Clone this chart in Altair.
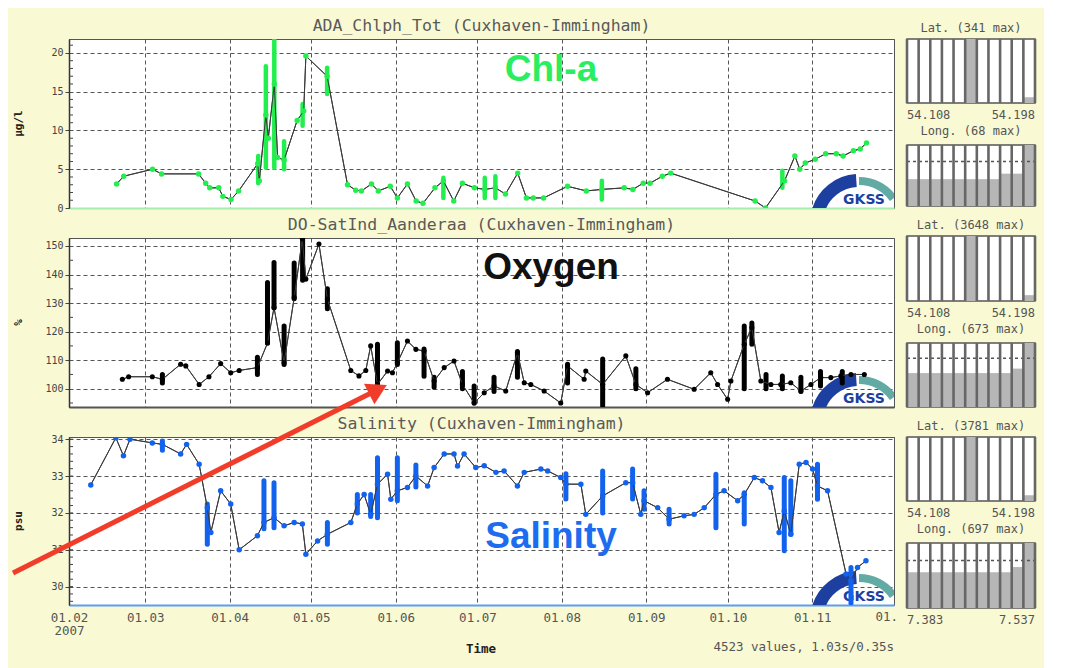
import altair as alt
import pandas as pd

# ---------------- data (days since 2007-02-01) ----------------
MONTH_DAYS = [0, 28, 59, 89, 120, 150, 181, 212, 242, 273, 303]
MONTH_LABELS = ["01.02", "01.03", "01.04", "01.05", "01.06", "01.07",
                "01.08", "01.09", "01.10", "01.11", ""]
LAST_LABEL = "01."          # December label, cut at the right edge of the plot
YEAR_LABEL = "2007"

chl_day = [17.5, 20.1, 30.7, 34.0, 47.6, 50.2, 51.7, 55.0, 56.5, 59.5,
           62.3, 69.3, 69.9, 72.3, 73.2, 75.4, 76.6, 79.0, 83.8, 86.2,
           87.0, 94.8, 102.3, 105.3, 107.4, 111.1, 113.6, 118.0, 120.6, 124.3,
           127.5, 130.0, 134.4, 137.5, 141.3, 144.5, 148.9, 152.7, 156.6, 160.3,
           164.8, 168.0, 170.5, 174.3, 183.1, 190.0, 195.7, 203.9, 207.1, 210.9,
           213.4, 217.9, 221.0, 252.0, 255.8, 262.8, 266.6, 268.4, 270.4, 274.1,
           277.9, 281.8, 284.3, 288.1, 290.6, 292.9]
chl_val = [3.1, 4.1, 5.0, 4.4, 4.4, 3.2, 2.6, 2.6, 1.5, 1.1,
           2.2, 5.7, 3.5, 12.0, 9.0, 16.0, 6.5, 6.2, 11.3, 12.5,
           19.6, 17.0, 3.0, 2.3, 2.2, 3.1, 2.2, 2.8, 1.3, 3.1,
           0.9, 0.6, 2.6, 3.5, 0.9, 3.2, 2.6, 2.4, 2.6, 1.8,
           4.5, 1.3, 1.3, 1.3, 2.8, 2.2, 2.4, 2.6, 2.4, 3.2,
           3.2, 4.1, 4.5, 0.9, 0.0, 3.5, 6.7, 5.0, 5.8, 6.3,
           7.0, 7.0, 6.7, 7.4, 7.6, 8.4]
chl_r_day = [69.5, 72.3, 75.4, 79.0, 85.8, 94.8, 137.5, 152.7, 156.6, 195.7, 262.0]
chl_r_lo = [3.2, 5.2, 5.2, 5.0, 10.6, 14.7, 1.3, 1.3, 1.3, 1.1, 2.6]
chl_r_hi = [6.7, 18.3, 21.8, 8.6, 13.4, 18.1, 3.9, 3.9, 4.1, 3.5, 4.8]

oxy_day = [19.6, 21.9, 30.6, 34.3, 41.0, 42.9, 47.8, 51.4, 55.7, 59.4,
           62.5, 69.2, 72.9, 75.3, 79.0, 82.7, 85.7, 87.0, 91.8, 94.9,
           103.5, 106.5, 109.0, 110.8, 113.3, 117.0, 118.8, 120.6, 124.3, 127.4,
           130.4, 134.1, 137.8, 141.4, 144.5, 148.8, 152.5, 156.1, 160.4, 164.7,
           167.2, 169.6, 174.5, 180.6, 183.1, 189.2, 189.8, 196.0, 204.5, 208.2,
           212.5, 219.8, 229.6, 235.7, 238.2, 241.9, 243.1, 248.0, 250.8, 254.1,
           257.8, 261.4, 265.1, 268.8, 272.5, 276.1, 279.8, 283.5, 287.2, 292.1]
oxy_val = [103.3, 104.2, 104.2, 103.3, 108.6, 108.0, 101.5, 104.2, 108.8, 105.6,
           106.4, 107.4, 116.0, 128.4, 109.1, 131.9, 152.5, 138.4, 150.7, 131.4,
           106.4, 104.5, 106.4, 115.0, 101.5, 106.2, 105.6, 109.1, 116.7, 113.8,
           113.2, 102.7, 107.4, 109.7, 101.5, 95.0, 98.6, 101.0, 99.2, 112.6,
           102.1, 101.5, 99.2, 95.0, 108.0, 103.3, 106.2, 101.5, 111.5, 101.5,
           98.6, 103.3, 99.8, 105.6, 101.5, 96.3, 102.7, 115.6, 121.4, 102.7,
           101.5, 101.5, 102.1, 99.2, 101.5, 103.9, 103.9, 104.5, 105.0, 105.0]
oxy_r_day = [34.3, 69.2, 72.9, 75.3, 79.0, 82.7, 85.8, 94.9, 113.3, 120.6,
             130.4, 134.1, 144.5, 148.8, 156.1, 164.7, 183.1, 196.0, 208.2, 248.0,
             250.8, 256.0, 262.0, 268.8, 276.0, 284.0]
oxy_r_lo = [102.0, 105.0, 116.0, 128.4, 108.5, 131.5, 138.0, 128.0, 100.4, 108.5,
            104.4, 100.5, 100.0, 95.0, 99.0, 104.0, 102.0, 94.0, 100.0, 100.0,
            115.6, 100.0, 100.0, 99.0, 101.0, 102.0]
oxy_r_hi = [105.0, 111.0, 137.2, 144.2, 122.0, 144.0, 152.8, 135.0, 115.6, 116.1,
            113.9, 104.0, 106.0, 101.0, 104.0, 113.0, 108.6, 110.4, 107.0, 122.0,
            123.0, 105.0, 104.5, 104.0, 106.0, 106.0]

sal_day = [8.0, 17.2, 20.0, 22.4, 30.6, 34.3, 41.0, 43.2, 47.8, 50.8,
           52.1, 55.7, 59.4, 62.5, 69.2, 71.6, 75.3, 79.0, 82.7, 85.7,
           87.0, 91.3, 94.9, 103.5, 105.9, 108.4, 110.8, 113.3, 117.0, 118.2,
           120.6, 124.3, 127.4, 131.7, 134.1, 137.8, 141.4, 142.7, 145.1, 149.4,
           152.5, 156.8, 159.8, 164.7, 167.2, 173.3, 175.8, 180.6, 182.5, 188.0,
           189.8, 196.0, 204.5, 207.0, 210.0, 211.2, 216.2, 220.4, 225.9, 229.6,
           233.3, 237.6, 240.6, 245.6, 248.0, 251.7, 254.7, 257.8, 260.8, 262.7,
           265.1, 268.2, 270.7, 273.1, 274.9, 278.6, 285.4, 287.2, 289.6, 292.7]
sal_val = [32.76, 34.04, 33.55, 34.00, 33.90, 33.86, 33.60, 33.86, 33.32, 32.14,
           31.47, 32.60, 32.24, 31.00, 31.38, 31.74, 31.87, 31.65, 31.74, 31.70,
           30.88, 31.24, 31.42, 31.74, 32.24, 32.50, 31.96, 32.78, 33.05, 32.37,
           32.60, 32.69, 33.00, 32.73, 33.23, 33.60, 33.60, 33.27, 33.60, 33.23,
           33.28, 33.10, 33.14, 32.73, 33.10, 33.19, 33.14, 32.96, 32.78, 32.78,
           31.96, 32.46, 32.82, 32.82, 31.96, 32.33, 32.14, 31.83, 31.92, 31.96,
           32.14, 32.50, 32.60, 32.33, 32.50, 32.96, 32.87, 32.69, 31.47, 32.05,
           31.42, 33.32, 33.37, 33.19, 32.73, 32.60, 30.34, 30.15, 30.52, 30.70]
sal_r_day = [34.3, 50.8, 71.6, 75.3, 94.9, 105.9, 110.8, 113.3, 120.6, 127.4,
             182.5, 196.0, 207.0, 211.2, 220.4, 237.6, 248.0, 262.7, 265.1, 274.9, 287.2]
sal_r_lo = [33.70, 31.15, 31.57, 31.60, 31.15, 32.00, 31.90, 31.87, 32.33, 32.70,
            32.38, 32.00, 32.38, 32.10, 31.70, 31.60, 31.70, 30.97, 31.42, 32.37, 29.55]
sal_r_hi = [33.95, 32.24, 32.87, 32.82, 31.74, 32.50, 32.50, 33.50, 33.50, 33.30,
            33.06, 33.14, 33.19, 32.60, 32.10, 33.05, 32.55, 32.96, 32.87, 33.32, 30.52]

# minor y ticks
chl_minor = [i for i in range(1, 22) if i % 5]
oxy_minor = [95, 105, 115, 125, 135, 145]
sal_minor = [round(29.6 + 0.2 * i, 1) for i in range(23)]

# position histograms (11 bins, fraction of max)
lat_titles = ["Lat. (341 max)", "Lat. (3648 max)", "Lat. (3781 max)"]
long_titles = ["Long. (68 max)", "Long. (673 max)", "Long. (697 max)"]
lat_fracs = [0, 0, 0, 0, 0, 1.0, 0, 0, 0, 0, 0.09]
long_fracs = [
    [0.44, 0.44, 0.44, 0.44, 0.44, 0.44, 0.44, 0.44, 0.53, 0.53, 1.0],
    [0.53, 0.53, 0.53, 0.53, 0.53, 0.53, 0.53, 0.53, 0.53, 0.60, 1.0],
    [0.55, 0.55, 0.55, 0.55, 0.55, 0.55, 0.55, 0.55, 0.55, 0.63, 1.0],
]
long_dash = [0.73, 0.76, 0.73]
lat_range = ["54.108", "54.198"]
long_range = ["7.383", "7.537"]

# ---------------- styling ----------------
MONO = "DejaVu Sans Mono"
W = 825
HX0, HX1 = 838, 966          # histogram column, relative to plot left
BG = "#f9f9d3"
CHL_C = "#22ee4e"
OXY_C = "#000000"
SAL_C = "#1262ee"

labels_js = "[" + ",".join(
    [f"['{MONTH_LABELS[0]}','{YEAR_LABEL}']"] + [f"'{l}'" for l in MONTH_LABELS[1:]]
) + "]"
LABEL_EXPR = f"{labels_js}[indexof({MONTH_DAYS}, datum.value)]"


def one(**kw):
    return pd.DataFrame({k: [v] for k, v in kw.items()})


def txt(text, x, y, size, color="#555", font=MONO, weight="normal", align="center",
        baseline="middle", angle=0):
    return alt.Chart(one(t=text)).mark_text(
        font=font, fontSize=size, color=color, fontWeight=weight, align=align,
        baseline=baseline, angle=angle
    ).encode(text="t:N", x=alt.value(x), y=alt.value(y))


def logo(height):
    d = one(k=0)
    cx, cy = 790, height + 15
    blue = alt.Chart(d).mark_arc(theta=5.0, theta2=6.22, innerRadius=36, outerRadius=49,
                                 color="#1d3f9f", clip=True).encode(x=alt.value(cx), y=alt.value(cy))
    teal = alt.Chart(d).mark_arc(theta=0.0, theta2=0.95, innerRadius=38, outerRadius=46,
                                 color="#62aaa4", clip=True).encode(x=alt.value(cx), y=alt.value(cy))
    t = txt("GKSS", 795, height - 4, 14, color="#1d3f9f", font="DejaVu Sans",
            weight="bold", baseline="alphabetic")
    return [blue, teal, t]


def hist_layer(title, fracs, top, h, title_dy, dash=None, labels=None):
    n = len(fracs)
    xs = alt.Scale(domain=[0, n], range=[HX0, HX1], nice=False, zero=False)
    ys = alt.Scale(domain=[0, 1], range=[top + h, top], nice=False, zero=False)
    bins = pd.DataFrame({"b0": list(range(n)), "b1": list(range(1, n + 1)),
                         "y0": [0] * n, "f": fracs})
    layers = [
        alt.Chart(one(a=0, b=n, c=0, d=1)).mark_rect(fill="white", stroke="#555",
                                                     strokeWidth=1.5).encode(
            x=alt.X("a:Q", scale=xs, axis=None), x2="b:Q",
            y=alt.Y("c:Q", scale=ys, axis=None), y2="d:Q"),
        alt.Chart(bins).mark_rect(color="#b6b6b6").encode(
            x=alt.X("b0:Q", scale=xs, axis=None), x2="b1:Q",
            y=alt.Y("y0:Q", scale=ys, axis=None), y2="f:Q"),
    ]
    if dash is not None:
        layers.append(alt.Chart(one(d=dash, a=0, b=n)).mark_rule(
            color="#555", strokeDash=[3, 3], strokeWidth=1.5).encode(
            x=alt.X("a:Q", scale=xs, axis=None), x2="b:Q",
            y=alt.Y("d:Q", scale=ys, axis=None)))
    edges = pd.DataFrame({"e": list(range(n + 1)), "y0": [0] * (n + 1), "y1": [1] * (n + 1)})
    layers.append(alt.Chart(edges).mark_rule(color="#666", strokeWidth=2.6).encode(
        x=alt.X("e:Q", scale=xs, axis=None),
        y=alt.Y("y0:Q", scale=ys, axis=None), y2="y1:Q"))
    layers.append(txt(title, (HX0 + HX1) / 2, top + title_dy, 12, color="#555"))
    if labels:
        layers.append(txt(labels[0], HX0, top + h + 12, 12, color="#555", align="left"))
        layers.append(txt(labels[1], HX1, top + h + 12, 12, color="#555", align="right"))
    return alt.layer(*layers)


def series_panel(days, vals, rd, rlo, rhi, color, ydom, yticks, minor, height, title,
                 ytitle, big, big_color, big_y, show_labels, domain_color, hists,
                 pt_size=30, rule_w=5, extra=None):
    pts = pd.DataFrame({"day": days, "v": vals})
    rng = pd.DataFrame({"day": rd, "lo": rlo, "hi": rhi})
    xaxis = alt.Axis(values=MONTH_DAYS, grid=True, gridColor="#555", gridDash=[4, 3],
                     gridWidth=1, labels=show_labels, labelExpr=LABEL_EXPR,
                     labelFlush=False, labelOverlap=False, labelFont=MONO,
                     labelFontSize=12.5, labelColor="#555", labelPadding=6,
                     labelLineHeight=13, ticks=False, domainColor=domain_color,
                     domainWidth=2, title=None, orient="bottom")
    xs = alt.Scale(domain=[0, 303], nice=False, zero=False)
    ys = alt.Scale(domain=ydom, nice=False, zero=False)
    yaxis = alt.Axis(values=yticks, grid=True, gridColor="#555", gridDash=[4, 3],
                     gridWidth=1, labelFont=MONO, labelFontSize=10, labelColor="#444",
                     labelPadding=2, tickSize=4, tickColor="#444", domainColor="#333",
                     domainWidth=1.5, labelOverlap=False, title=None, orient="left")
    x = alt.X("day:Q", scale=xs, axis=xaxis)
    line = alt.Chart(pts).mark_line(color="#3a3a3a", strokeWidth=1, clip=True).encode(
        x=x, y=alt.Y("v:Q", scale=ys, axis=yaxis))
    bars = alt.Chart(rng).mark_rule(color=color, strokeWidth=rule_w, strokeCap="round",
                                    clip=True).encode(
        x=x, y=alt.Y("lo:Q", scale=ys, axis=yaxis), y2="hi:Q")
    dots = alt.Chart(pts).mark_circle(size=pt_size, color=color, opacity=1,
                                      clip=True).encode(
        x=x, y=alt.Y("v:Q", scale=ys, axis=yaxis))
    mticks = alt.Chart(pd.DataFrame({"m": minor})).mark_rule(color="#444").encode(
        x=alt.value(0), x2=alt.value(4), y=alt.Y("m:Q", scale=ys, axis=yaxis))
    main = alt.layer(line, mticks, bars, line, dots)
    layers = []
    layers += logo(height)
    layers += [txt(big, 482, big_y, 37, color=big_color, font="Liberation Sans",
                   weight="bold", baseline="alphabetic")]
    layers += [main]
    layers += [txt(title, W / 2, -13, 16.5, color="#5a5a5a"),
               txt(ytitle, -50, height / 2, 11, color="#222", weight="bold", angle=270)]
    layers += hists
    if extra:
        layers += extra
    return alt.layer(*layers).resolve_scale(x="independent", y="independent").properties(
        width=W, height=height)


# invisible anchor fixing the top-left / extent of the yellow frame
anchor = alt.Chart(one(k=0)).mark_rect(opacity=0).encode(
    x=alt.value(-58), x2=alt.value(972), y=alt.value(-28), y2=alt.value(627))

hist1 = [hist_layer(lat_titles[0], lat_fracs, 0, 64, -11, labels=lat_range),
         hist_layer(long_titles[0], long_fracs[0], 106, 61, -14, dash=long_dash[0])]
hist2 = [hist_layer(lat_titles[1], lat_fracs, -2, 65, -11, labels=lat_range),
         hist_layer(long_titles[1], long_fracs[1], 105, 64, -14, dash=long_dash[1])]
hist3 = [hist_layer(lat_titles[2], lat_fracs, 0, 64, -11, labels=lat_range),
         hist_layer(long_titles[2], long_fracs[2], 106, 65, -14, dash=long_dash[2],
                    labels=long_range)]

p_chl = series_panel(chl_day, chl_val, chl_r_day, chl_r_lo, chl_r_hi, CHL_C,
                     [0, 21.8], [0, 5, 10, 15, 20], chl_minor, 169,
                     "ADA_Chlph_Tot (Cuxhaven-Immingham)", "µg/l", "Chl-a", "#2aee60",
                     42, False, "#a8ecb0", hist1, rule_w=4.5, extra=[anchor])
p_oxy = series_panel(oxy_day, oxy_val, oxy_r_day, oxy_r_lo, oxy_r_hi, OXY_C,
                     [93.6, 152.8], [100, 110, 120, 130, 140, 150], oxy_minor, 169,
                     "DO-SatInd_Aanderaa (Cuxhaven-Immingham)", "%", "Oxygen", "#111111",
                     41, False, "#555555", hist2, pt_size=26)

arrow_line = alt.Chart(one(k=0)).mark_rule(color="#f23c2a", strokeWidth=5).encode(
    x=alt.value(-56), y=alt.value(136), x2=alt.value(310), y2=alt.value(-48))
arrow_head = alt.Chart(one(k=0)).mark_point(shape="triangle-right", filled=True, size=520,
                                            angle=333, color="#f23c2a", opacity=1).encode(
    x=alt.value(309), y=alt.value(-47.5))

p_sal = series_panel(sal_day, sal_val, sal_r_day, sal_r_lo, sal_r_hi, SAL_C,
                     [29.50, 34.06], [30, 31, 32, 33, 34], sal_minor, 168,
                     "Salinity (Cuxhaven-Immingham)", "psu", "Salinity", "#1d6cf0",
                     111, True, "#5d9ef0", hist3,
                     extra=[txt(LAST_LABEL, 829, 174, 12.5, color="#555", align="right",
                                baseline="top"),
                            txt("Time", 412, 212, 12.5, color="#222", weight="bold"),
                            txt("4523 values, 1.03s/0.35s", 825, 210, 12.5, color="#555",
                                align="right"),
                            arrow_line, arrow_head])

chart = alt.vconcat(p_chl, p_oxy, p_sal, spacing=30, bounds="flush").properties(
    background=BG, padding=2
).configure_view(stroke="#555", strokeWidth=1, fill="white")

chart.save("out.html", embed_options={"renderer": "svg", "actions": False})
